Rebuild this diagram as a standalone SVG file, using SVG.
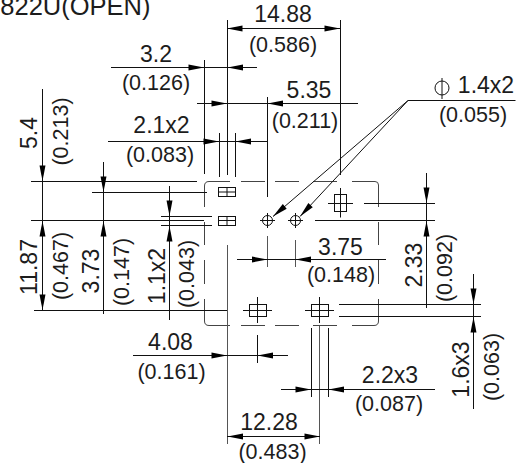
<svg xmlns="http://www.w3.org/2000/svg" xmlns:xlink="http://www.w3.org/1999/xlink" width="526" height="463" viewBox="0 0 526 463">
<style>
.l{stroke:#111;stroke-width:1;fill:none}
.g{stroke:#555;stroke-width:1;fill:none}
.o{stroke:#444;stroke-width:1;fill:none}
text{font-family:"Liberation Sans",Arial,sans-serif;font-size:23px;fill:#1c1c1c;text-anchor:middle}
.p{font-size:21.500px}
</style>
<defs>
<path id="a" d="M0 0L-15.5-3L-15.5 3Z" fill="#000"/>
<g id="hole"><circle r="5" class="l"/><path d="M-7.5 0H7.5M0-7.5V7.5" class="l"/></g>
</defs>
<rect width="526" height="463" fill="#fff"/>
<g id="outline">
<path class="o" d="M204.5 207V186Q204.5 181.500 209 181.500H230M241 181.500H265M275 181.500H299M313 181.500H337M352 181.500H375Q378.500 181.500 378.500 185V207M378.500 222V245M378.500 260V284M378.500 299V321Q378.500 325.500 374 325.500H352M337 325.500H313M299 325.500H275M265 325.500H241M230 325.500H209Q204.500 325.500 204.500 321V299M204.500 284V260M204.500 245V222"/>
</g>
<g id="pads">
<g id="pad-1"><rect x="218.500" y="187.500" width="17" height="9" class="l"/><path class="l" d="M218 192H236M227 187V197"/></g>
<g id="pad-2"><rect x="218.500" y="216.500" width="17" height="9" class="l"/><path class="l" d="M218 220.500H236M227 216V226"/></g>
<g id="pad-3"><rect x="334.500" y="194.500" width="12" height="17" class="l"/><path class="l" d="M340.500 188V217.500M328 203.500H353"/></g>
<g id="pad-4"><rect x="249.500" y="304.500" width="17" height="12" class="l"/><path class="l" d="M243 310.500H272M257.500 297V323"/></g>
<g id="pad-5"><rect x="311.500" y="304.500" width="17" height="12" class="l"/><path class="l" d="M305 310.500H334M319.500 297V323"/></g>
<use id="hole-1" xlink:href="#hole" href="#hole" x="267.500" y="220.500"/>
<use id="hole-2" xlink:href="#hole" href="#hole" x="295.500" y="220.500"/>
</g>
<g id="connectors">
<path class="l" d="M227.500 20V175M340.500 20V175M204.500 60V174M227.500 28.500H340M111 67.500H257M197 103.500H358M108 141.500H267M267.500 97V197M219.500 133V177M235.500 133V177"/>
<path class="g" d="M227.500 245V444M319.500 326V444M267.500 236V267M295.500 240V267"/>
<path class="l" d="M31 181.500H197M31 220.500H204M34 310.500H227M92 192.500H207M161 216.500H212M161 225.500H212M42.500 89V310M103.500 162V314M169.500 186V320"/>
<path class="l" d="M364 203.500H435M315 220.500H435M339 304.500H481M339 316.500H481M426.500 173V308M473.500 274V409M237 259.500H386M133 355.500H288M257.500 335V363M281 389.500H435M311.500 328V397M328.500 328V397M227 436.500H320"/>
<path class="l" d="M515.500 100.500H408L273 216.500M408 100.500L300 216.500"/>
<use xlink:href="#a" href="#a" transform="translate(227 28.500) rotate(180)"/>
<use xlink:href="#a" href="#a" transform="translate(340 28.500)"/>
<use xlink:href="#a" href="#a" transform="translate(204 67.500)"/>
<use xlink:href="#a" href="#a" transform="translate(227.500 67.500) rotate(180)"/>
<use xlink:href="#a" href="#a" transform="translate(227 103.500)"/>
<use xlink:href="#a" href="#a" transform="translate(267.500 103.500) rotate(180)"/>
<use xlink:href="#a" href="#a" transform="translate(219 141.500)"/>
<use xlink:href="#a" href="#a" transform="translate(235.500 141.500) rotate(180)"/>
<use xlink:href="#a" href="#a" transform="translate(42.500 181) rotate(90)"/>
<use xlink:href="#a" href="#a" transform="translate(42.500 221) rotate(-90)"/>
<use xlink:href="#a" href="#a" transform="translate(42.500 310) rotate(90)"/>
<use xlink:href="#a" href="#a" transform="translate(103.500 192) rotate(90)"/>
<use xlink:href="#a" href="#a" transform="translate(103.500 221) rotate(-90)"/>
<use xlink:href="#a" href="#a" transform="translate(169.500 216) rotate(90)"/>
<use xlink:href="#a" href="#a" transform="translate(169.500 226) rotate(-90)"/>
<use xlink:href="#a" href="#a" transform="translate(426.500 203) rotate(90)"/>
<use xlink:href="#a" href="#a" transform="translate(426.500 221) rotate(-90)"/>
<use xlink:href="#a" href="#a" transform="translate(473.500 304) rotate(90)"/>
<use xlink:href="#a" href="#a" transform="translate(473.500 317) rotate(-90)"/>
<use xlink:href="#a" href="#a" transform="translate(267.500 259.500)"/>
<use xlink:href="#a" href="#a" transform="translate(295.500 259.500) rotate(180)"/>
<use xlink:href="#a" href="#a" transform="translate(227 355.500)"/>
<use xlink:href="#a" href="#a" transform="translate(257.500 355.500) rotate(180)"/>
<use xlink:href="#a" href="#a" transform="translate(311 389.500)"/>
<use xlink:href="#a" href="#a" transform="translate(328.500 389.500) rotate(180)"/>
<use xlink:href="#a" href="#a" transform="translate(227.500 436.500) rotate(180)"/>
<use xlink:href="#a" href="#a" transform="translate(320 436.500)"/>
<use xlink:href="#a" href="#a" transform="translate(273 216.500) rotate(139.300)"/>
<use xlink:href="#a" href="#a" transform="translate(300 216.500) rotate(132.900)"/>
</g>
<g id="phi"><circle cx="442" cy="88" r="7" class="l"/><path class="l" d="M442 78V99"/></g>
<g id="labels">
<text x="150.500" y="15" style="text-anchor:end;font-size:25.500px">822U(OPEN)</text>
<text x="283" y="22">14.88</text><text class="p" x="283" y="52">(0.586)</text>
<text x="156" y="62">3.2</text><text class="p" x="156" y="90">(0.126)</text>
<text x="309" y="98">5.35</text><text class="p" x="305" y="128">(0.211)</text>
<text x="161.500" y="133">2.1x2</text><text class="p" x="160" y="162">(0.083)</text>
<text x="486" y="93">1.4x2</text><text class="p" x="473" y="122">(0.055)</text>
<text transform="translate(37 133) rotate(-90)">5.4</text><text class="p" transform="translate(68 131.500) rotate(-90)">(0.213)</text>
<text transform="translate(37 267) rotate(-90)">11.87</text><text class="p" transform="translate(68 266) rotate(-90)">(0.467)</text>
<text transform="translate(99 271) rotate(-90)">3.73</text><text class="p" transform="translate(129 272) rotate(-90)">(0.147)</text>
<text transform="translate(165 276) rotate(-90)">1.1x2</text><text class="p" transform="translate(194 274) rotate(-90)">(0.043)</text>
<text x="340.500" y="255">3.75</text><text class="p" x="341" y="282">(0.148)</text>
<text transform="translate(422 265) rotate(-90)">2.33</text><text class="p" transform="translate(452 268) rotate(-90)">(0.092)</text>
<text x="170.500" y="350">4.08</text><text class="p" x="171.500" y="379">(0.161)</text>
<text x="390" y="383">2.2x3</text><text class="p" x="389" y="411">(0.087)</text>
<text x="269" y="430">12.28</text><text class="p" x="272.500" y="459">(0.483)</text>
<text transform="translate(469 369.500) rotate(-90)">1.6x3</text><text class="p" transform="translate(499 367) rotate(-90)">(0.063)</text>
</g>
</svg>
